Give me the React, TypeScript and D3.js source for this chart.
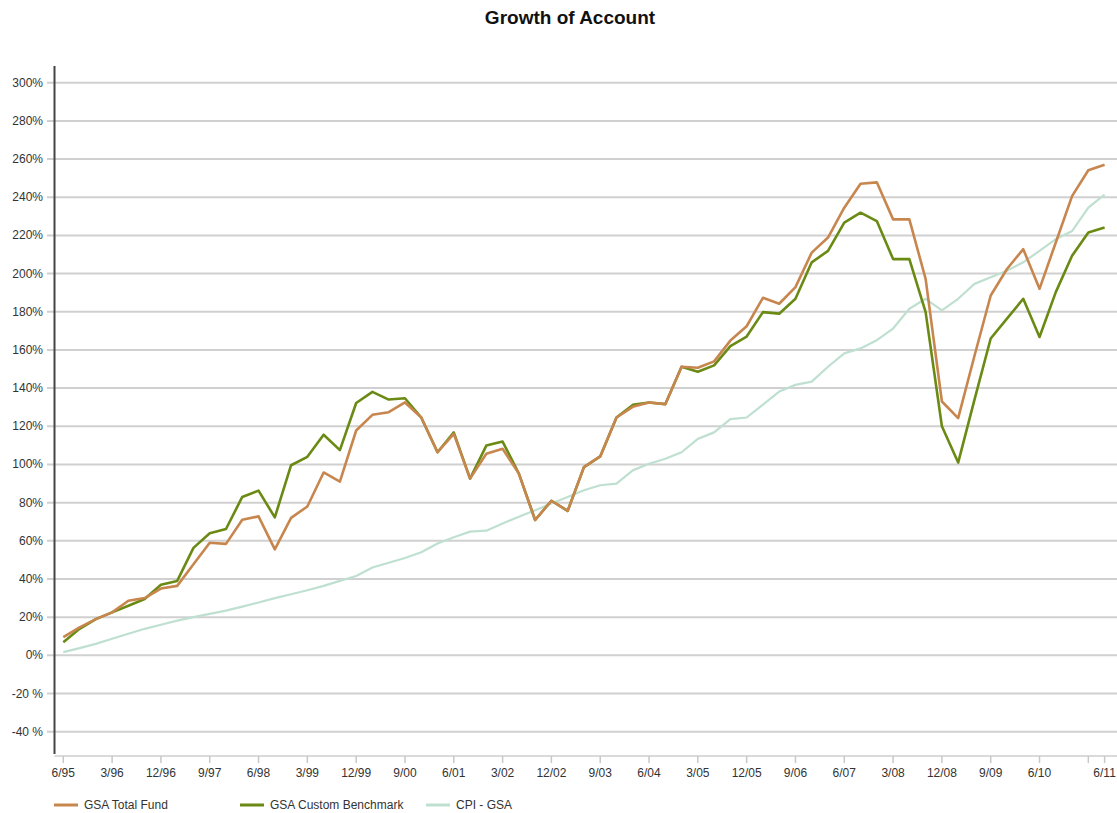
import React from 'react';
import * as d3 from 'd3';

const quarters = [
  '6/95', '9/95', '12/95', '3/96', '6/96', '9/96', '12/96', '3/97', '6/97', '9/97', '12/97',
  '3/98', '6/98', '9/98', '12/98', '3/99', '6/99', '9/99', '12/99', '3/00', '6/00', '9/00',
  '12/00', '3/01', '6/01', '9/01', '12/01', '3/02', '6/02', '9/02', '12/02', '3/03', '6/03',
  '9/03', '12/03', '3/04', '6/04', '9/04', '12/04', '3/05', '6/05', '9/05', '12/05', '3/06',
  '6/06', '9/06', '12/06', '3/07', '6/07', '9/07', '12/07', '3/08', '6/08', '9/08', '12/08',
  '3/09', '6/09', '9/09', '12/09', '3/10', '6/10', '9/10', '12/10', '3/11', '6/11',
];

const totalFund = [
  9.5, 14.7, 19, 22.5, 28.6, 30, 35, 36.4, 47.7, 59, 58.4, 71, 72.8, 55.5, 72, 78, 95.8, 91,
  117.8, 126, 127.4, 132.5, 124.6, 106.4, 116, 92.6, 105.6, 108.2, 95.2, 70.9, 81, 75.7, 98.6,
  104.2, 124.6, 130.2, 132.5, 131.6, 151.2, 150.7, 154, 164.9, 172.4, 187.3, 184.2, 192.9, 211,
  218.9, 234.5, 247.1, 247.8, 228.4, 228.4, 197.2, 133, 124.3, 156.8, 188.5, 202.4, 212.8, 192,
  216.3, 240.6, 254.1, 257,
];

const benchmark = [
  6.9, 13.9, 19, 22.5, 26, 29.5, 37, 39, 56.3, 64, 66.2, 83, 86.3, 72.3, 99.6, 104, 115.6, 107.5,
  132.2, 138, 134, 134.7, 124.6, 106.4, 116.8, 92.6, 109.9, 112, 95.2, 70.9, 81, 75.7, 98.6,
  104.2, 124.6, 131.2, 132.5, 131.6, 151.2, 148.6, 151.9, 162, 167, 179.8, 179, 186.8, 205.9,
  211.9, 226.7, 231.9, 227.5, 207.6, 207.6, 179.8, 120, 101, 133.8, 166, 176.4, 186.8, 166.8,
  190.3, 209.3, 221.5, 224.1,
];

const cpi = [
  1.7, 3.8, 6, 8.7, 11.3, 13.9, 16, 18.2, 20, 21.7, 23.4, 25.5, 27.7, 30, 32, 34.1, 36.4, 39,
  41.6, 46, 48.5, 51, 54, 58.6, 61.9, 64.8, 65.3, 69.1, 72.6, 76, 79.5, 83, 86.5, 89.1, 90, 96.9,
  100.4, 103, 106.4, 113.4, 116.8, 123.8, 124.6, 131.3, 138.2, 141.7, 143.4, 151.2, 158.2, 160.8,
  165.1, 171.2, 181.6, 186.8, 180.7, 186.8, 194.6, 198.1, 201.5, 205.9, 211.9, 218, 222.3, 234.5,
  241.4,
];

const xTickValues = [
  '6/95', '3/96', '12/96', '9/97', '6/98', '3/99', '12/99', '9/00', '6/01', '3/02', '12/02',
  '9/03', '6/04', '3/05', '12/05', '9/06', '6/07', '3/08', '12/08', '9/09', '6/10', '3/11', '6/11',
];
const xTickLabels = xTickValues.filter(q => q !== '3/11');

const yTicks = [-40, -20, 0, 20, 40, 60, 80, 100, 120, 140, 160, 180, 200, 220, 240, 260, 280, 300];

const series = [
  { name: 'GSA Total Fund', values: totalFund, color: '#c8864f', width: 2.6 },
  { name: 'GSA Custom Benchmark', values: benchmark, color: '#6a8a14', width: 2.6 },
  { name: 'CPI - GSA', values: cpi, color: '#bfe0d0', width: 2.2 },
];

const W = 1117;
const H = 813;
const font = '"Liberation Sans", Arial, sans-serif';

export default function App() {
  const x = d3.scalePoint<string>().domain(quarters).range([63.3, 1104.6]);
  const y = d3.scaleLinear().domain([-40, 300]).range([731.7, 82.7]);
  const axisX = 54.5;
  const axisBottom = 756;

  const line = (vals: number[]) =>
    d3
      .line<number>()
      .x((_, i) => x(quarters[i]) as number)
      .y(d => y(d))(vals) as string;

  const legendX = [54, 240, 426];

  return (
    <svg
      width={W}
      height={H}
      style={{ position: 'absolute', left: 0, top: 0, background: '#fff' }}
      fontFamily={font}
    >
      <text x={570} y={24} textAnchor="middle" fontSize={19} fontWeight="bold" fill="#111">
        Growth of Account
      </text>

      {yTicks.map(t => (
        <g key={t}>
          <line x1={47} x2={W} y1={y(t)} y2={y(t)} stroke="#d0d0d0" strokeWidth={2} />
          <text x={43} y={y(t) + 4} textAnchor="end" fontSize={12} fill="#333">
            {t < 0 ? `${t} %` : `${t}%`}
          </text>
        </g>
      ))}

      <line x1={axisX} x2={W} y1={axisBottom} y2={axisBottom} stroke="#dadada" strokeWidth={2} />
      {xTickValues.map(q => (
        <line
          key={q}
          x1={x(q)}
          x2={x(q)}
          y1={axisBottom}
          y2={axisBottom + 7}
          stroke="#c8c8c8"
          strokeWidth={1.5}
        />
      ))}
      {xTickLabels.map(q => (
        <text key={q} x={x(q)} y={777} textAnchor="middle" fontSize={12} fill="#333">
          {q}
        </text>
      ))}

      <line x1={axisX} x2={axisX} y1={66} y2={axisBottom - 2} stroke="#444" strokeWidth={2} />

      {[...series].reverse().map(s => (
        <path
          key={s.name}
          d={line(s.values)}
          fill="none"
          stroke={s.color}
          strokeWidth={s.width}
          strokeLinejoin="round"
        />
      ))}

      {series.map((s, i) => (
        <g key={s.name}>
          <line
            x1={legendX[i]}
            x2={legendX[i] + 24}
            y1={805}
            y2={805}
            stroke={s.color}
            strokeWidth={3}
          />
          <text x={legendX[i] + 30} y={809} fontSize={12} fill="#333">
            {s.name}
          </text>
        </g>
      ))}
    </svg>
  );
}
